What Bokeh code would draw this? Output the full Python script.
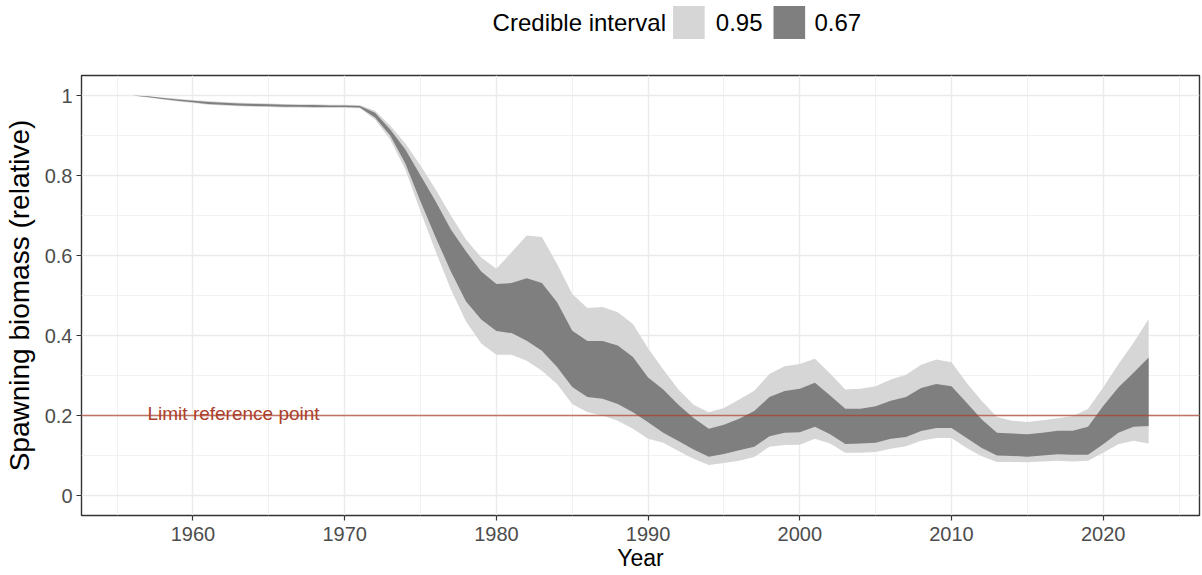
from bokeh.plotting import figure
from bokeh.layouts import column
from bokeh.models import Range1d, FixedTicker, Span, ColumnDataSource
from bokeh.embed import file_html
from bokeh.resources import INLINE
from bokeh.core.properties import value

# ---------------- data ----------------
years = list(range(1956, 2024))
lo95 = [1.000, 0.995, 0.990, 0.985, 0.981, 0.977, 0.975, 0.973, 0.972, 0.971,
        0.970, 0.970, 0.969, 0.969, 0.969, 0.968, 0.940, 0.890, 0.815, 0.710,
        0.610, 0.515, 0.435, 0.380, 0.352, 0.352, 0.337, 0.312, 0.279, 0.229,
        0.208, 0.200, 0.187, 0.167, 0.142, 0.132, 0.111, 0.092, 0.076, 0.081,
        0.087, 0.096, 0.122, 0.126, 0.127, 0.142, 0.130, 0.107, 0.107, 0.109,
        0.117, 0.123, 0.137, 0.144, 0.144, 0.119, 0.098, 0.084, 0.084, 0.083,
        0.085, 0.087, 0.085, 0.087, 0.107, 0.128, 0.137, 0.130]
lo67 = [1.000, 0.996, 0.991, 0.987, 0.983, 0.979, 0.977, 0.975, 0.974, 0.973,
        0.972, 0.972, 0.971, 0.971, 0.971, 0.970, 0.945, 0.900, 0.830, 0.735,
        0.645, 0.560, 0.485, 0.440, 0.411, 0.406, 0.387, 0.362, 0.321, 0.271,
        0.246, 0.242, 0.229, 0.208, 0.183, 0.157, 0.136, 0.115, 0.097, 0.104,
        0.113, 0.122, 0.148, 0.157, 0.158, 0.172, 0.153, 0.129, 0.130, 0.132,
        0.142, 0.146, 0.161, 0.169, 0.169, 0.144, 0.119, 0.100, 0.099, 0.097,
        0.100, 0.103, 0.102, 0.102, 0.128, 0.157, 0.172, 0.174]
hi67 = [1.000, 0.998, 0.994, 0.990, 0.987, 0.984, 0.982, 0.980, 0.979, 0.978,
        0.977, 0.976, 0.976, 0.975, 0.975, 0.974, 0.957, 0.915, 0.865, 0.800,
        0.735, 0.665, 0.610, 0.560, 0.529, 0.531, 0.543, 0.531, 0.483, 0.412,
        0.386, 0.386, 0.375, 0.346, 0.295, 0.265, 0.227, 0.194, 0.167, 0.177,
        0.192, 0.211, 0.246, 0.261, 0.267, 0.282, 0.250, 0.217, 0.217, 0.223,
        0.237, 0.246, 0.269, 0.279, 0.273, 0.232, 0.190, 0.157, 0.155, 0.153,
        0.157, 0.162, 0.162, 0.172, 0.224, 0.270, 0.307, 0.345]
hi95 = [1.000, 0.999, 0.995, 0.992, 0.989, 0.986, 0.984, 0.982, 0.981, 0.980,
        0.979, 0.978, 0.978, 0.977, 0.977, 0.976, 0.962, 0.925, 0.880, 0.825,
        0.765, 0.700, 0.640, 0.595, 0.567, 0.608, 0.650, 0.646, 0.579, 0.504,
        0.469, 0.471, 0.458, 0.429, 0.368, 0.315, 0.265, 0.227, 0.208, 0.219,
        0.240, 0.262, 0.304, 0.323, 0.329, 0.342, 0.305, 0.265, 0.267, 0.273,
        0.290, 0.302, 0.327, 0.340, 0.333, 0.282, 0.236, 0.196, 0.187, 0.184,
        0.188, 0.193, 0.199, 0.216, 0.270, 0.328, 0.382, 0.441]

x_ticks = [1960, 1970, 1980, 1990, 2000, 2010, 2020]
x_minor = [1955, 1965, 1975, 1985, 1995, 2005, 2015, 2025]
y_ticks = [0, 0.2, 0.4, 0.6, 0.8, 1.0]
y_tick_labels = ["0", "0.2", "0.4", "0.6", "0.8", "1"]
y_minor = [0.1, 0.3, 0.5, 0.7, 0.9]
interval_labels = ["0.95", "0.67"]
legend_title = "Credible interval"
limit_value = 0.2
limit_label = "Limit reference point"
limit_label_year = 1957
x_title = "Year"
y_title = "Spawning biomass (relative)"

# ---------------- styles ----------------
FONT = "Liberation Sans"
LIGHT = "#D6D6D6"
DARK = "#7F7F7F"
RED = "#AB412C"
GRID = "#EBEBEB"
W = 1202
LEG_H = 70
MAIN_H = 505
L, R, T, B = 81, 3, 5, 60

# ---------------- legend strip (top) ----------------
leg = figure(width=W, height=LEG_H, output_backend="svg", toolbar_location=None,
             x_range=Range1d(0, W), y_range=Range1d(LEG_H, 0),
             x_axis_location=None, y_axis_location=None,
             min_border_left=0, min_border_right=0, min_border_top=0, min_border_bottom=0)
leg.outline_line_color = None
leg.grid.visible = False
leg.background_fill_color = "white"
leg.border_fill_color = "white"
key_size = 34
key_lefts = [636, 744]
key_top = 5
label_lefts = [682, 788]
title_left = 442
mid_y = key_top + key_size / 2
leg.rect(x=[k + key_size / 2 for k in key_lefts], y=[mid_y, mid_y],
         width=key_size, height=key_size - 1, fill_color=[LIGHT, DARK], line_color=None)
leg.text(x=[title_left], y=[mid_y], text=[legend_title], text_font=value(FONT),
         text_font_size="24px", text_color="black", text_baseline="middle", text_align="left")
leg.text(x=label_lefts, y=[mid_y, mid_y], text=interval_labels, text_font=value(FONT),
         text_font_size="24px", text_color="black", text_baseline="middle", text_align="left")

# ---------------- main plot ----------------
src = ColumnDataSource(dict(year=years, lo95=lo95, lo67=lo67, hi67=hi67, hi95=hi95))

p = figure(width=W, height=MAIN_H, output_backend="svg", toolbar_location=None,
           x_range=Range1d(1952.65, 2026.35), y_range=Range1d(-0.05, 1.05),
           min_border_left=L, min_border_right=R, min_border_top=T, min_border_bottom=B)
p.background_fill_color = "white"
p.border_fill_color = "white"
p.outline_line_color = "#333333"
p.outline_line_width = 1.4

p.varea(x="year", y1="lo95", y2="hi95", source=src, fill_color=LIGHT, fill_alpha=1)
p.varea(x="year", y1="lo67", y2="hi67", source=src, fill_color=DARK, fill_alpha=1)

p.add_layout(Span(location=limit_value, dimension="width", line_color=RED,
                  line_alpha=0.7, line_width=1.5))
p.text(x=[limit_label_year], y=[limit_value], text=[limit_label],
       text_font=value(FONT), text_font_size="19px", text_color=RED,
       text_baseline="alphabetic", text_align="left", y_offset=-2)

p.xaxis.ticker = FixedTicker(ticks=x_ticks, minor_ticks=x_minor)
p.yaxis.ticker = FixedTicker(ticks=y_ticks, minor_ticks=y_minor)
p.yaxis.major_label_overrides = dict(zip(y_ticks, y_tick_labels))
p.xaxis.axis_label = x_title
p.yaxis.axis_label = y_title
for ax in (p.xaxis, p.yaxis):
    ax.axis_line_color = None
    ax.major_tick_line_color = "#333333"
    ax.major_tick_line_width = 1.2
    ax.major_tick_out = 5
    ax.major_tick_in = 0
    ax.minor_tick_line_color = None
    ax.minor_tick_out = 0
    ax.minor_tick_in = 0
    ax.major_label_text_font = FONT
    ax.major_label_text_font_size = "20px"
    ax.major_label_text_color = "#4D4D4D"
    ax.axis_label_text_font = FONT
    ax.axis_label_text_font_style = "normal"
    ax.axis_label_text_color = "black"
p.xaxis.major_label_standoff = 6
p.xaxis.axis_label_standoff = 1
p.xaxis.axis_label_text_font_size = "23px"
p.yaxis.major_label_standoff = 4
p.yaxis.axis_label_standoff = 7
p.yaxis.axis_label_text_font_size = "28px"

for g in (p.xgrid, p.ygrid):
    g.grid_line_color = GRID
    g.grid_line_width = 1.4
    g.minor_grid_line_color = GRID
    g.minor_grid_line_width = 0.7

layout = column(leg, p, spacing=0)
open("out.html", "w").write(file_html(layout, INLINE))
